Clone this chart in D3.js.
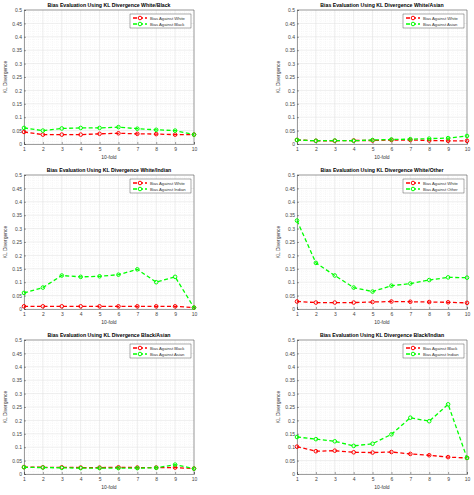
<!DOCTYPE html><html><head><meta charset="utf-8"><script src="https://cdn.jsdelivr.net/npm/d3@7"></script>
<style>body{margin:0;background:#fff}</style></head><body><svg id="c" width="474" height="495"></svg>
<script>
const folds=[1,2,3,4,5,6,7,8,9,10];
const yTicks=[0,0.05,0.1,0.15,0.2,0.25,0.3,0.35,0.4,0.45,0.5];
const titles=["Bias Evaluation Using KL Divergence White/Black","Bias Evaluation Using KL Divergence White/Asian","Bias Evaluation Using KL Divergence White/Indian","Bias Evaluation Using KL Divergence White/Other","Bias Evaluation Using KL Divergence Black/Asian","Bias Evaluation Using KL Divergence Black/Indian"];
const redNames=["Bias Against White","Bias Against White","Bias Against White","Bias Against White","Bias Against Black","Bias Against Black"];
const greenNames=["Bias Against Black","Bias Against Asian","Bias Against Indian","Bias Against Other","Bias Against Asian","Bias Against Indian"];
const redVals=[
[0.045,0.035,0.035,0.035,0.038,0.04,0.038,0.037,0.035,0.035],
[0.015,0.012,0.012,0.013,0.013,0.015,0.015,0.013,0.012,0.012],
[0.01,0.01,0.01,0.01,0.01,0.01,0.01,0.01,0.01,0.005],
[0.028,0.024,0.024,0.024,0.026,0.028,0.027,0.026,0.025,0.023],
[0.026,0.025,0.025,0.024,0.024,0.025,0.024,0.024,0.024,0.02],
[0.102,0.085,0.087,0.081,0.08,0.082,0.075,0.07,0.063,0.06]];
const greenVals=[
[0.06,0.05,0.058,0.06,0.06,0.063,0.057,0.053,0.05,0.035],
[0.015,0.012,0.013,0.012,0.015,0.017,0.018,0.02,0.022,0.03],
[0.06,0.08,0.125,0.12,0.122,0.128,0.148,0.1,0.12,0.005],
[0.33,0.172,0.125,0.08,0.065,0.087,0.095,0.108,0.118,0.117],
[0.025,0.024,0.023,0.022,0.022,0.022,0.022,0.023,0.035,0.02],
[0.138,0.13,0.122,0.105,0.113,0.148,0.21,0.197,0.26,0.06]];
const svg=d3.select("#c");
for(let i=0;i<6;i++){
  const ox=(i%2)*273, oy=Math.floor(i/2)*165;
  const x=d3.scaleLinear().domain([1,10]).range([ox+24,ox+194]);
  const y=d3.scaleLinear().domain([0,0.5]).range([oy+144,oy+10]);
  const g=svg.append("g");
  g.append("rect").attr("x",x(1)).attr("y",y(0.5)).attr("width",x(10)-x(1)).attr("height",y(0)-y(0.5)).attr("fill","#fff");
  // minor grid
  for(let v=1;v<10;v+=0.25) if(Math.abs(v-Math.round(v))>0.01) g.append("line").attr("x1",x(v)).attr("x2",x(v)).attr("y1",y(0)).attr("y2",y(0.5)).attr("stroke","#eee").attr("stroke-width",0.4).attr("stroke-dasharray","1,1");
  for(let v=0;v<0.5;v+=0.01) if(Math.abs(v*20-Math.round(v*20))>0.01) g.append("line").attr("x1",x(1)).attr("x2",x(10)).attr("y1",y(v)).attr("y2",y(v)).attr("stroke","#eee").attr("stroke-width",0.4).attr("stroke-dasharray","1,1");
  g.append("g").selectAll("line").data(folds).join("line").attr("x1",d=>x(d)).attr("x2",d=>x(d)).attr("y1",y(0)).attr("y2",y(0.5)).attr("stroke","#ddd").attr("stroke-width",0.5);
  g.append("g").selectAll("line").data(yTicks).join("line").attr("x1",x(1)).attr("x2",x(10)).attr("y1",d=>y(d)).attr("y2",d=>y(d)).attr("stroke","#ddd").attr("stroke-width",0.5);
  const ax=g.append("g").attr("transform",`translate(0,${y(0)})`).call(d3.axisBottom(x).tickValues(folds).tickSize(-2).tickPadding(3));
  const ay=g.append("g").attr("transform",`translate(${x(1)},0)`).call(d3.axisLeft(y).tickValues(yTicks).tickFormat(d=>d3.format("")(+d.toFixed(2))).tickSize(-2).tickPadding(2));
  [ax,ay].forEach(a=>{a.selectAll("text").attr("font-size",5).attr("fill","#444").attr("font-family","Liberation Sans");a.selectAll("path,line").attr("stroke","#444").attr("stroke-width",0.5);});
  g.append("line").attr("x1",x(1)).attr("x2",x(10)).attr("y1",y(0.5)).attr("y2",y(0.5)).attr("stroke","#444").attr("stroke-width",0.5);
  g.append("line").attr("x1",x(10)).attr("x2",x(10)).attr("y1",y(0.5)).attr("y2",y(0)).attr("stroke","#444").attr("stroke-width",0.5);
  g.append("text").attr("x",(x(1)+x(10))/2).attr("y",oy+7).attr("text-anchor","middle").attr("font-size",5.2).attr("font-weight","bold").attr("font-family","Liberation Sans").text(titles[i]);
  g.append("text").attr("x",(x(1)+x(10))/2).attr("y",oy+159).attr("text-anchor","middle").attr("font-size",5).attr("fill","#333").attr("font-family","Liberation Sans").text("10-fold");
  g.append("text").attr("transform",`translate(${ox+7},${oy+77}) rotate(-90)`).attr("text-anchor","middle").attr("font-size",5).attr("fill","#333").attr("font-family","Liberation Sans").text("KL Divergence");
  const line=d3.line().x((d,j)=>x(folds[j])).y(d=>y(d));
  [[redVals[i],"#ff0000","#dd0000"],[greenVals[i],"#00ff00","#00cc00"]].forEach(([vals,c,c2])=>{
    g.append("path").attr("d",line(vals)).attr("fill","none").attr("stroke",c).attr("stroke-width",1.3).attr("stroke-dasharray","4,2.5");
    g.append("g").selectAll("circle").data(vals).join("circle").attr("cx",(d,j)=>x(folds[j])).attr("cy",d=>y(d)).attr("r",1.8).attr("fill","none").attr("stroke",c).attr("stroke-width",1);
  });
  // legend
  const lx=ox+130, ly=oy+14;
  g.append("rect").attr("x",lx).attr("y",ly).attr("width",61).attr("height",14).attr("fill","#fff").attr("stroke","#333").attr("stroke-width",0.4);
  [[redNames[i],"#ff0000"],[greenNames[i],"#00ff00"]].forEach(([n,c],k)=>{
    const yy=ly+4+k*6;
    g.append("line").attr("x1",lx+3).attr("x2",lx+17).attr("y1",yy).attr("y2",yy).attr("stroke",c).attr("stroke-width",1.3).attr("stroke-dasharray","4,2");
    g.append("circle").attr("cx",lx+10).attr("cy",yy).attr("r",1.8).attr("fill","#fff").attr("stroke",c).attr("stroke-width",1);
    g.append("text").attr("x",lx+20).attr("y",yy+1.5).attr("font-size",4.2).attr("fill","#333").attr("font-family","Liberation Sans").text(n);
  });
}
</script></body></html>
